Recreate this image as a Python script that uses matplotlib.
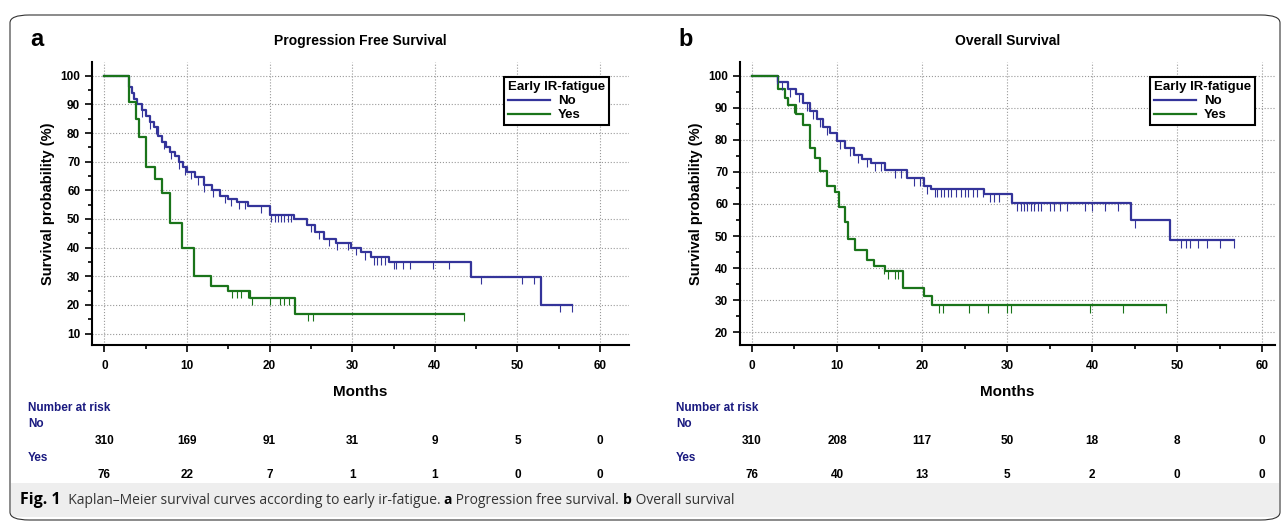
import numpy as np
import matplotlib
matplotlib.use("Agg")
import matplotlib.pyplot as plt
from matplotlib.patches import FancyBboxPatch, Rectangle

plt.rcParams['font.family'] = ['Liberation Sans', 'DejaVu Sans']

# ---- data ----
pfs_no_t = [0, 3.0, 3.3, 3.6, 4, 4.5, 5, 5.5, 6, 6.5, 7, 7.5, 8, 8.5, 9, 9.5, 10, 11, 12, 13, 14, 15, 16, 17.4, 20, 23, 24.5, 25.5, 26.6, 28, 29.8, 31, 32.3, 34.4, 44.4, 52.9, 56.6]
pfs_no_s = [100, 96, 94, 92, 90, 88, 86, 84, 82, 79, 77, 75, 73.5, 72, 70, 68, 66.5, 64.5, 62, 60, 58, 57, 56, 54.6, 51.3, 50, 48, 45.6, 43, 41.5, 40, 38.3, 36.6, 35, 29.8, 20, 20]
pfs_yes_t = [0, 3.0, 3.8, 4.2, 5.0, 6.1, 7.0, 7.9, 9.4, 10.8, 12.9, 15.0, 17.6, 23.1, 43.5]
pfs_yes_s = [100, 91, 85, 78.7, 68, 64, 59, 48.7, 40, 30, 26.7, 25, 22.4, 16.9, 16.9]
pfs_no_cens = [4.5, 5.5, 6.3, 7.2, 8.1, 9.0, 9.8, 10.5, 11.3, 12.0, 13.2, 14.6, 15.3, 16.3, 17.0, 19.0, 20.2, 20.6, 21.0, 21.4, 21.8, 22.2, 22.6, 25.0, 26.0, 27.2, 28.2, 29.5, 30.5, 31.5, 32.6, 33.0, 33.5, 34.0, 35.1, 35.3, 36.2, 37.0, 39.8, 41.7, 44.3, 45.6, 50.6, 52.0, 55.2, 56.6]
pfs_yes_cens = [15.5, 16.0, 16.5, 17.4, 17.9, 20.0, 21.3, 21.8, 22.3, 24.6, 25.3, 43.5]
os_no_t = [0, 3.1, 4.2, 5.2, 6.0, 6.8, 7.6, 8.4, 9.2, 10, 11, 12, 13, 14, 15.7, 18.2, 20.2, 21, 27.3, 30.6, 44.6, 49.1, 56.7]
os_no_s = [100, 98, 96, 94.4, 91.5, 89, 86.5, 84, 82, 79.5, 77.5, 75.4, 74, 72.8, 70.5, 68.2, 65.6, 64.6, 63, 60.3, 54.9, 48.7, 48.7]
os_yes_t = [0, 3.1, 3.9, 4.3, 5.2, 6.0, 6.8, 7.4, 8.0, 8.8, 9.8, 10.2, 10.9, 11.3, 12.1, 13.5, 14.3, 15.7, 17.8, 20.2, 21.2, 48.7]
os_yes_s = [100, 96, 93, 90.8, 88, 84.6, 77.4, 74.4, 70.3, 65.6, 63.6, 59, 54.4, 49.2, 45.6, 42.6, 40.5, 39, 33.9, 31.3, 28.5, 28.5]
os_no_cens = [3.0, 3.5, 4.5, 5.5, 6.5, 7.2, 8.0, 8.8, 10.3, 11.5, 12.5, 13.5, 14.5, 15.2, 16.8, 17.5, 19.0, 19.8, 20.6, 21.5, 21.8, 22.2, 22.6, 23.0, 23.4, 24.0, 24.6, 25.0, 25.4, 26.0, 26.5, 27.2, 28.0, 28.5, 29.0, 31.2, 31.6, 32.0, 32.4, 32.8, 33.2, 33.6, 34.0, 35.0, 35.5, 36.2, 37.0, 39.2, 40.0, 41.5, 43.0, 44.5, 45.0, 50.5, 51.0, 51.5, 52.5, 53.5, 55.0, 56.7]
os_yes_cens = [4.2, 5.0, 15.5, 16.0, 16.8, 17.2, 22.0, 22.5, 25.5, 27.8, 30.0, 30.5, 39.8, 43.6, 48.7]
risk_times = [0, 10, 20, 30, 40, 50, 60]
pfs_risk_no = [310, 169, 91, 31, 9, 5, 0]
pfs_risk_yes = [76, 22, 7, 1, 1, 0, 0]
os_risk_no = [310, 208, 117, 50, 18, 8, 0]
os_risk_yes = [76, 40, 13, 5, 2, 0, 0]

BLUE = '#34349a'
GREEN = '#1a741a'
NAVY = '#1a1a80'

fig = plt.figure(figsize=(12.87, 5.23), dpi=100)
W, H = 1287, 523

fig.patches.append(FancyBboxPatch((10/W, 3/H), 1270/W, 505/H, boxstyle="round,pad=0,rounding_size=0.015",
                                  transform=fig.transFigure, fill=False, ec='#333333', lw=0.8))
fig.patches.append(Rectangle((11/W, 6/H), 1268/W, 34/H, transform=fig.transFigure,
                             fc='#eeeeee', ec='none', zorder=0))

def step_val(t, s, x):
    i = np.searchsorted(np.array(t), x, side='right') - 1
    return np.array(s)[i]

def panel(rect, letter, title, nt, ns, yt, ys, ncen, ycen, ylim, yticks, rno, ryes, xlim):
    ax = fig.add_axes(rect)
    ax.step(nt, ns, where='post', color=BLUE, lw=1.6, label='No')
    ax.step(yt, ys, where='post', color=GREEN, lw=1.6, label='Yes')
    for cen, t, s, c in [(ncen, nt, ns, BLUE), (ycen, yt, ys, GREEN)]:
        v = np.array([step_val(t, s, x) for x in cen])
        ax.vlines(cen, v - 2.5, v, color=c, lw=0.8)
    ax.set_xlim(*xlim)
    ax.set_ylim(*ylim)
    ax.set_xticks(risk_times)
    ax.set_xticks(np.arange(5, 60, 10), minor=True)
    ax.set_yticks(yticks)
    ax.set_yticks(np.array(yticks[:-1]) + 5, minor=True)
    ax.grid(True, which='major', ls=':', color='#999999', lw=0.8)
    for sp in ['top', 'right']:
        ax.spines[sp].set_visible(False)
    ax.spines['left'].set_linewidth(1.5)
    ax.spines['bottom'].set_linewidth(1.5)
    ax.tick_params(which='both', width=1.2, labelsize=8.5)
    ax.tick_params(which='major', length=5)
    ax.tick_params(which='minor', length=3)
    for lb in ax.get_xticklabels() + ax.get_yticklabels():
        lb.set_fontweight('bold')
    ax.tick_params(axis='x', pad=6)
    ax.set_xlabel("Months", fontsize=11, fontweight='bold', labelpad=9)
    ax.set_ylabel("Survival probability (%)", fontsize=10.5, fontweight='bold')
    ax.set_title(title, fontsize=10, fontweight='bold', pad=12)
    leg = ax.legend(title="Early IR-fatigue", loc='upper right', bbox_to_anchor=(0.975, 0.97),
                    fancybox=False, edgecolor='black', framealpha=1, fontsize=9.5,
                    handlelength=3.2, borderpad=0.3, labelspacing=0.15, handletextpad=0.6)
    leg.get_title().set_fontweight('bold')
    leg.get_title().set_fontsize(9.5)
    leg._legend_box.align = 'left'
    leg.get_frame().set_linewidth(1.5)
    for t in leg.get_texts():
        t.set_fontweight('bold')
    fig.text(rect[0] - 62/W, 1-40/H, letter, fontsize=17, fontweight='bold', va='center')
    tr = matplotlib.transforms.blended_transform_factory(ax.transData, fig.transFigure)
    fig.text(rect[0] - 64/W, 1-408/H, "Number at risk", color=NAVY, fontsize=8.5, fontweight='bold', va='center')
    fig.text(rect[0] - 64/W, 1-424/H, "No", color=NAVY, fontsize=8.5, fontweight='bold', va='center')
    fig.text(rect[0] - 64/W, 1-458/H, "Yes", color=NAVY, fontsize=8.5, fontweight='bold', va='center')
    for x, a, b in zip(risk_times, rno, ryes):
        ax.text(x, 1-441/H, str(a), transform=tr, ha='center', va='center', fontsize=8.5, fontweight='bold')
        ax.text(x, 1-475/H, str(b), transform=tr, ha='center', va='center', fontsize=8.5, fontweight='bold')
    return ax

panel([92/W, 1-345/H, 537/W, 283/H], 'a', 'Progression Free Survival', pfs_no_t, pfs_no_s, pfs_yes_t, pfs_yes_s,
      pfs_no_cens, pfs_yes_cens, (6.0, 104.8), list(range(10, 101, 10)), pfs_risk_no, pfs_risk_yes, (-1.5, 63.5))
panel([740/W, 1-345/H, 535/W, 283/H], 'b', 'Overall Survival', os_no_t, os_no_s, os_yes_t, os_yes_s,
      os_no_cens, os_yes_cens, (16.0, 104.3), list(range(20, 101, 10)), os_risk_no, os_risk_yes, (-1.4, 61.5))

pieces = [("Fig. 1", 'bold', 11.5, 'black'), ("  Kaplan\u2013Meier survival curves according to early ir-fatigue. ", 'normal', 10, '#333333'),
          ("a", 'bold', 10, 'black'), (" Progression free survival. ", 'normal', 10, '#333333'),
          ("b", 'bold', 10, 'black'), (" Overall survival", 'normal', 10, '#333333')]
fig.canvas.draw()
r = fig.canvas.get_renderer()
x = 20
for s, w, fs, c in pieces:
    t = fig.text(x/W, 1-500/H, s, fontsize=fs, fontweight=w, family=['Open Sans', 'DejaVu Sans'], va='center', color=c)
    x += t.get_window_extent(r).width

fig.savefig("out.png", dpi=100)
